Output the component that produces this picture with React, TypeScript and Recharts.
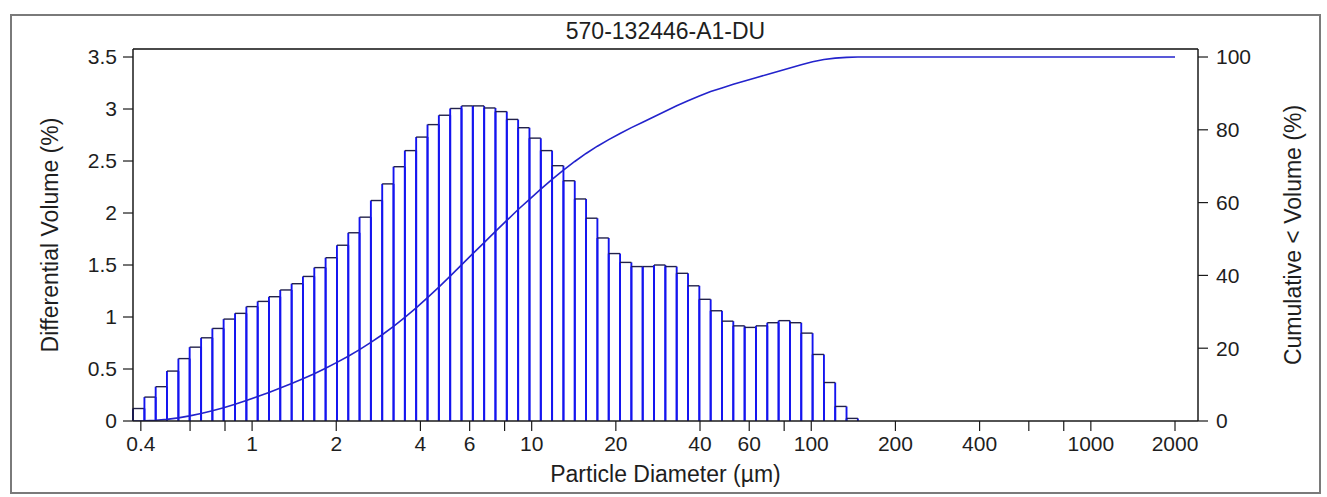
import React from 'react';
import { ComposedChart, Line, XAxis, YAxis, ReferenceArea, Label } from 'recharts';

// Channel edges (µm) of the log-spaced size classes
const binEdges = [
  0.375, 0.412, 0.452, 0.496, 0.545, 0.598, 0.657, 0.721, 0.791, 0.869,
  0.954, 1.047, 1.149, 1.261, 1.385, 1.52, 1.669, 1.832, 2.011, 2.208,
  2.423, 2.66, 2.92, 3.206, 3.519, 3.862, 4.241, 4.656, 5.111, 5.611,
  6.159, 6.761, 7.421, 8.147, 8.944, 9.819, 10.78, 11.83, 12.99, 14.26,
  15.65, 17.18, 18.86, 20.71, 22.73, 24.95, 27.39, 30.07, 33.01, 36.24,
  39.78, 43.67, 47.94, 52.62, 57.77, 63.41, 69.61, 76.42, 83.89, 92.09,
  101.1, 111.0, 121.8, 133.7, 146.8,
];

// Differential volume (%) for each channel
const diffVolume = [
  0.12, 0.23, 0.33, 0.48, 0.6, 0.71, 0.8, 0.89, 0.98, 1.035,
  1.1, 1.15, 1.195, 1.26, 1.32, 1.39, 1.475, 1.57, 1.69, 1.81,
  1.96, 2.12, 2.28, 2.445, 2.6, 2.73, 2.85, 2.94, 3.005, 3.03,
  3.03, 3.01, 2.975, 2.9, 2.82, 2.72, 2.6, 2.455, 2.31, 2.135,
  1.95, 1.76, 1.61, 1.525, 1.485, 1.485, 1.5, 1.485, 1.42, 1.3,
  1.17, 1.06, 0.96, 0.915, 0.9, 0.915, 0.945, 0.965, 0.945, 0.845,
  0.64, 0.37, 0.14, 0.025,
];

// Cumulative < volume (%) curve
const cumulativeX = [
  0.375, 0.412, 0.452, 0.496, 0.545, 0.598, 0.657, 0.721, 0.791, 0.869,
  0.954, 1.047, 1.149, 1.261, 1.385, 1.52, 1.669, 1.832, 2.011, 2.208,
  2.423, 2.66, 2.92, 3.206, 3.519, 3.862, 4.241, 4.656, 5.111, 5.611,
  6.159, 6.761, 7.421, 8.147, 8.944, 9.819, 10.78, 11.83, 12.99, 14.26,
  15.65, 17.18, 18.86, 20.71, 22.73, 24.95, 27.39, 30.07, 33.01, 36.24,
  39.78, 43.67, 47.94, 52.62, 57.77, 63.41, 69.61, 76.42, 83.89, 92.09,
  101.1, 111.0, 121.8, 133.7, 146.8, 2000,
];
const cumulativeVolume = [
  0, 0.05, 0.2, 0.45, 0.85, 1.4, 2.05, 2.8, 3.65, 4.6,
  5.6, 6.7, 7.85, 9.05, 10.3, 11.6, 13.0, 14.5, 16.1, 17.8,
  19.6, 21.6, 23.7, 26.0, 28.5, 31.1, 33.9, 36.8, 39.8, 42.9,
  46.0, 49.0, 52.1, 55.1, 58.1, 60.9, 63.7, 66.4, 68.9, 71.3,
  73.5, 75.5, 77.3, 79.0, 80.6, 82.1, 83.6, 85.1, 86.6, 88.0,
  89.3, 90.5, 91.5, 92.5, 93.4, 94.3, 95.2, 96.1, 97.0, 97.9,
  98.7, 99.3, 99.7, 99.9, 100, 100,
];

const xTicks = [0.4, 0.6, 0.8, 1, 2, 4, 6, 8, 10, 20, 40, 60, 80, 100, 200, 400, 600, 800, 1000, 2000];
const xTickLabels = ['0.4', '', '', '1', '2', '4', '6', '', '10', '20', '40', '60', '', '100', '200', '400', '', '', '1000', '2000'];
const leftTicks = [0, 0.5, 1, 1.5, 2, 2.5, 3, 3.5];
const rightTicks = [0, 20, 40, 60, 80, 100];

const TITLE = '570-132446-A1-DU';
const X_LABEL = 'Particle Diameter (µm)';
const Y_LEFT_LABEL = 'Differential Volume (%)';
const Y_RIGHT_LABEL = 'Cumulative < Volume (%)';

const FONT = '"Liberation Sans", Arial, sans-serif';
const TEXT = '#1e1e1e';
const AXIS = '#1a1a1a';
const BAR_SIDE = '#1414f0';
const BAR_TOP = '#22224a';
const LINE = '#2323cc';

const lineData = cumulativeX.map((d, i) => ({ d, cum: cumulativeVolume[i] }));

const BinShape = (p: any) => {
  const { x, y, width, height } = p;
  if (x == null || y == null) return <g />;
  const bottom = y + height;
  return (
    <g>
      <line x1={x} y1={bottom} x2={x} y2={y} stroke={BAR_SIDE} strokeWidth={1.9} />
      <line x1={x + width} y1={bottom} x2={x + width} y2={y} stroke={BAR_SIDE} strokeWidth={1.9} />
      <line x1={x} y1={y} x2={x + width} y2={y} stroke={BAR_TOP} strokeWidth={1.4} />
    </g>
  );
};

const tickStyle = { fontSize: 21, fill: TEXT, fontFamily: FONT };
const labelStyle = { fontSize: 23, fill: TEXT, fontFamily: FONT, textAnchor: 'middle' as const };
const titleStyle = { fontSize: 23, fill: TEXT, fontFamily: FONT, textAnchor: 'middle' as const };

export default function App() {
  return (
    <div style={{ position: 'absolute', left: 0, top: 0, width: 1327, height: 497, background: '#fff' }}>
      <div
        style={{
          position: 'absolute',
          left: 10,
          top: 14,
          width: 1307,
          height: 476,
          border: '2px solid #7a7a7a',
        }}
      />
      <div style={{ position: 'absolute', left: 0, top: 0 }}>
        <ComposedChart
          width={1327}
          height={497}
          data={lineData}
          margin={{ top: 0, right: 0, bottom: 0, left: 0 }}
        >
          <XAxis
            xAxisId="top"
            orientation="top"
            type="number"
            scale="log"
            domain={[0.375, 2417]}
            allowDataOverflow
            height={49}
            tick={false}
            tickLine={false}
            axisLine={{ stroke: '#4a4a4a', strokeWidth: 2 }}
          >
            <Label value={TITLE} position="insideTop" offset={23} style={titleStyle} />
          </XAxis>
          <XAxis
            dataKey="d"
            type="number"
            scale="log"
            domain={[0.375, 2417]}
            allowDataOverflow
            ticks={xTicks}
            interval={0}
            tickFormatter={(v: number) => {
              const i = xTicks.indexOf(v);
              return i >= 0 ? xTickLabels[i] : '';
            }}
            height={76}
            tickSize={10}
            tickMargin={5}
            tick={tickStyle}
            axisLine={{ stroke: AXIS, strokeWidth: 1.5 }}
            tickLine={{ stroke: AXIS, strokeWidth: 1.2 }}
          >
            <Label value={X_LABEL} position="insideBottom" offset={15} style={labelStyle} />
          </XAxis>
          <YAxis
            yAxisId="left"
            domain={[0, 3.577]}
            allowDataOverflow
            ticks={leftTicks}
            interval={0}
            width={133}
            tickSize={10}
            tickMargin={6}
            tick={tickStyle}
            axisLine={{ stroke: AXIS, strokeWidth: 1.5 }}
            tickLine={{ stroke: AXIS, strokeWidth: 1.2 }}
          >
            <Label value={Y_LEFT_LABEL} angle={-90} position="insideLeft" offset={50} style={labelStyle} />
          </YAxis>
          <YAxis
            yAxisId="right"
            orientation="right"
            domain={[0, 102.2]}
            allowDataOverflow
            ticks={rightTicks}
            interval={0}
            width={129}
            tickSize={10}
            tickMargin={8}
            tick={tickStyle}
            axisLine={{ stroke: AXIS, strokeWidth: 1.5 }}
            tickLine={{ stroke: AXIS, strokeWidth: 1.2 }}
          >
            <Label value={Y_RIGHT_LABEL} angle={-90} position="insideRight" offset={34} style={labelStyle} />
          </YAxis>
          {diffVolume.map((v, i) => (
            <ReferenceArea
              key={i}
              yAxisId="left"
              x1={binEdges[i]}
              x2={binEdges[i + 1]}
              y1={0}
              y2={v}
              ifOverflow="visible"
              shape={BinShape}
            />
          ))}
          <Line
            yAxisId="right"
            dataKey="cum"
            type="linear"
            stroke={LINE}
            strokeWidth={1.6}
            dot={false}
            activeDot={false}
            isAnimationActive={false}
          />
        </ComposedChart>
      </div>
    </div>
  );
}
